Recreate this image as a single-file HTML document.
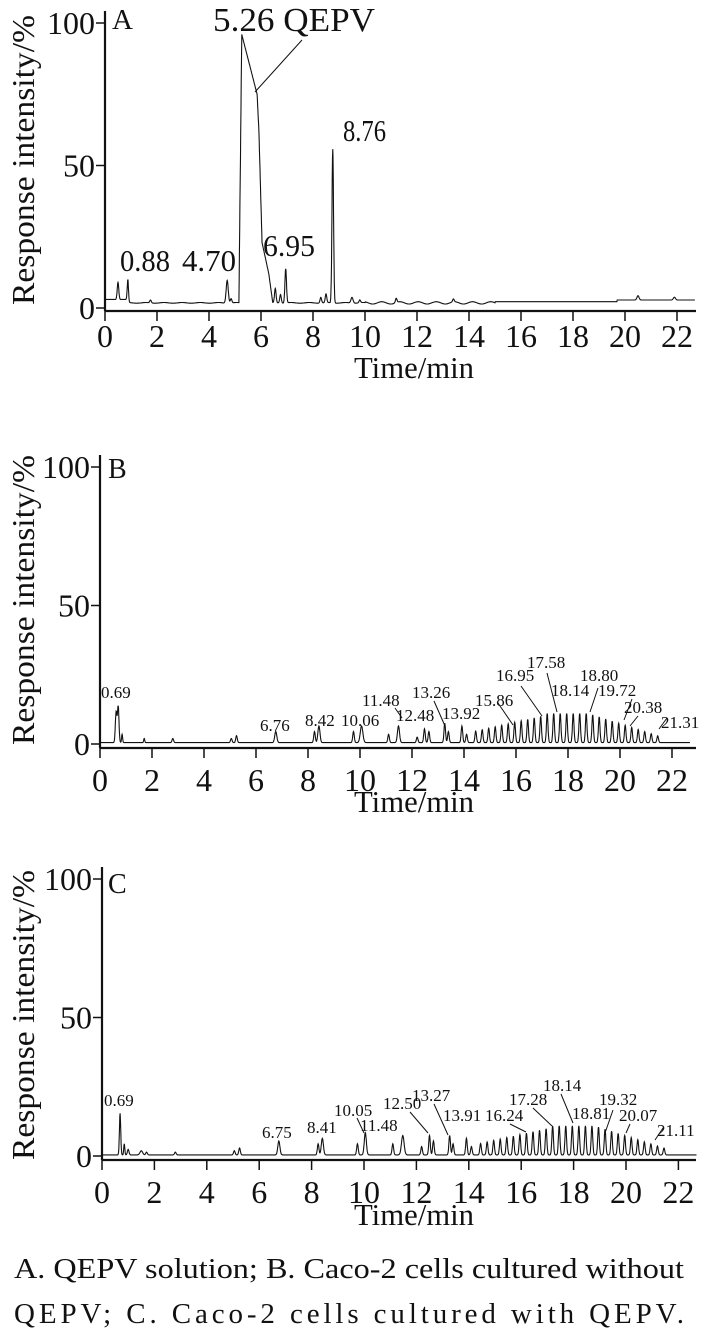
<!DOCTYPE html>
<html><head><meta charset="utf-8"><style>
html,body{margin:0;padding:0;background:#fff;}
svg{display:block;font-family:"Liberation Serif",serif;}
</style></head><body>
<svg id="s" width="701" height="1336" viewBox="0 0 701 1336" xmlns="http://www.w3.org/2000/svg">
<g fill="#111" stroke="none">
<text x="34" y="160" font-size="32" text-anchor="middle" textLength="290" lengthAdjust="spacingAndGlyphs" transform="rotate(-90 34 160)">Response intensity/%</text>
<text x="34" y="600" font-size="32" text-anchor="middle" textLength="290" lengthAdjust="spacingAndGlyphs" transform="rotate(-90 34 600)">Response intensity/%</text>
<text x="34" y="1015" font-size="32" text-anchor="middle" textLength="290" lengthAdjust="spacingAndGlyphs" transform="rotate(-90 34 1015)">Response intensity/%</text>
<text x="112" y="29" font-size="29">A</text>
<text x="108" y="478" font-size="28">B</text>
<text x="108" y="893" font-size="28">C</text>
<text x="213" y="31" font-size="34" textLength="162" lengthAdjust="spacingAndGlyphs">5.26 QEPV</text>
<text x="343" y="141" font-size="31" textLength="43" lengthAdjust="spacingAndGlyphs">8.76</text>
<text x="120" y="271" font-size="31" textLength="50" lengthAdjust="spacingAndGlyphs">0.88</text>
<text x="182" y="271" font-size="31" textLength="54" lengthAdjust="spacingAndGlyphs">4.70</text>
<text x="263" y="256" font-size="31" textLength="52" lengthAdjust="spacingAndGlyphs">6.95</text>
<text x="354" y="378" font-size="31" textLength="120" lengthAdjust="spacingAndGlyphs">Time/min</text>
<text x="354" y="812" font-size="31" textLength="120" lengthAdjust="spacingAndGlyphs">Time/min</text>
<text x="354" y="1225" font-size="31" textLength="120" lengthAdjust="spacingAndGlyphs">Time/min</text>
<text x="14" y="1278" font-size="29" textLength="670" lengthAdjust="spacingAndGlyphs">A. QEPV solution; B. Caco-2 cells cultured without</text>
<text x="14" y="1323" font-size="29" textLength="670" lengthAdjust="spacing">QEPV; C. Caco-2 cells cultured with QEPV.</text>
</g>
<g id="dyn"></g>
</svg>
<script>
const NS="http://www.w3.org/2000/svg",dyn=document.getElementById('dyn');
function el(t,a,txt){const e=document.createElementNS(NS,t);for(const k in a)e.setAttribute(k,a[k]);if(txt!==undefined)e.textContent=txt;dyn.appendChild(e);return e;}
function axes(x0,y0,y100,axY,lblY,ppm){
 el('line',{x1:x0,y1:y100-12,x2:x0,y2:axY,stroke:'#111','stroke-width':2.2});
 el('line',{x1:x0,y1:axY,x2:696,y2:axY,stroke:'#111','stroke-width':2.2});
 [[0,y0],[50,(y0+y100)/2],[100,y100]].forEach(([v,y])=>{
  el('line',{x1:x0-9,y1:y,x2:x0,y2:y,stroke:'#111','stroke-width':1.5});
  el('text',{x:x0-10,y:y+11,'font-size':32,'text-anchor':'end',fill:'#111'},String(v));});
 for(let m=0;m<=22;m+=2){const x=x0+m*ppm;
  el('line',{x1:x,y1:axY,x2:x,y2:axY+10,stroke:'#111','stroke-width':1.5});
  el('text',{x:x,y:lblY,'font-size':32,'text-anchor':'middle',fill:'#111'},String(m));}
}
function trace(x0,y0,y100,ppm,base,peaks,extra){
 const pts=[];
 for(let t=0;t<=22.7;t+=0.01){
  let v=base(t);
  for(const [c,h,w] of peaks){v+=h*Math.exp(-((t-c)*(t-c))/(2*w*w));}
  if(extra)v=extra(t,v);
  pts.push((x0+t*ppm).toFixed(1)+','+(y0-v*(y0-y100)/100).toFixed(1));
 }
 el('polyline',{points:pts.join(' '),fill:'none',stroke:'#111','stroke-width':1.1});
}
function lbl(x,y,s,fs){el('text',{x:x,y:y,'font-size':fs||17,fill:'#111'},s);}
function ln(a,b,c,d){el('line',{x1:a,y1:b,x2:c,y2:d,stroke:'#111','stroke-width':1});}

const pA=26.0;
axes(105,308,23,311,347,pA);
trace(105,308,23,pA,t=> (t<0.9?3:(t<15?1.8+0.4*Math.sin(t*9)*(t>10&&t<15?1:0.3):2.2+(t>19.7?0.6:0))),
 [[0.5,6,0.03],[0.88,7,0.025],[1.75,1,0.03],[4.7,8,0.04],[4.85,1.5,0.03],[6.55,5,0.03],[6.75,3,0.03],[6.95,12,0.03],
  [8.3,2,0.03],[8.5,3,0.03],[8.76,54,0.03],[9.5,2,0.04],[9.8,1,0.03],[11.2,1.5,0.03],[13.4,1,0.03],[20.5,1.5,0.04],[21.9,1,0.04]],
 (t,v)=>{ if(t>=5.15&&t<6.45){let m;
   if(t<5.26)m=2+(t-5.15)/0.11*94;
   else if(t<5.85)m=96-(t-5.26)/0.59*21;
   else if(t<5.92)m=75-(t-5.85)/0.07*13;
   else if(t<6.04)m=62-(t-5.92)/0.12*39;
   else if(t<6.3)m=23-(t-6.04)/0.26*11;
   else m=12-(t-6.3)/0.15*10;
   return Math.max(v,m);} return v;});
ln(302,40,255,92);

function tail(arr,hmax){
 for(let t=14.45;t<21.7;t+=0.25){
  let h= t<17.2? 4+ (t-14.4)/2.8*6 : t<18.8? 10.5 : 10.5-(t-18.8)/2.8*8.5;
  arr.push([t,h*hmax,0.03]);
 } return arr;}
const pB=26.0;
axes(100,744,467,748,791,pB);
trace(100,744,467,pB,t=>0.5,tail([[0.62,11,0.03],[0.7,13,0.03],[0.85,3,0.02],[1.7,1.5,0.02],[2.8,1.5,0.03],[5.05,1.5,0.03],[5.25,2.5,0.03],
 [6.76,4,0.04],[8.25,4,0.03],[8.42,6,0.04],[9.75,4,0.03],[10.06,6,0.05],[11.1,3,0.03],[11.48,6,0.04],[12.2,2,0.03],[12.48,5,0.03],[12.65,4,0.03],
 [13.26,7,0.03],[13.4,4,0.03],[13.92,6,0.03],[14.1,3,0.03]],1));
lbl(101,698,'0.69');lbl(260,731,'6.76');lbl(305,726,'8.42');lbl(341,726,'10.06');lbl(362,706,'11.48');
lbl(396,721,'12.48');lbl(412,698,'13.26');lbl(442,719,'13.92');lbl(475,706,'15.86');lbl(496,681,'16.95');
lbl(527,668,'17.58');lbl(551,696,'18.14');lbl(580,681,'18.80');lbl(598,696,'19.72');lbl(624,713,'20.38');lbl(661,728,'21.31');
ln(395,708,402,718);ln(434,701,445,726);ln(498,703,513,725);ln(521,686,542,716);ln(547,673,557,712);ln(598,688,590,712);ln(632,699,624,720);ln(638,716,630,726);ln(667,718,659,729);

const pC=26.2;
axes(102,1156,879,1160,1203,pC);
trace(102,1156,879,pC,t=>0.4,tail([[0.69,15,0.025],[0.85,4,0.02],[1.0,2,0.03],[1.5,1.5,0.05],[1.7,1,0.03],[2.8,1,0.03],[5.05,1.5,0.03],[5.25,2.5,0.03],
 [6.75,5,0.04],[8.25,4,0.03],[8.41,6,0.04],[9.75,4,0.03],[10.05,8,0.04],[11.1,4,0.03],[11.48,7,0.05],[12.2,3,0.03],[12.5,7,0.03],[12.65,5,0.03],
 [13.27,7,0.03],[13.4,4,0.03],[13.91,6,0.03],[14.1,3,0.03]],1));
lbl(104,1106,'0.69');lbl(262,1138,'6.75');lbl(307,1133,'8.41');lbl(334,1116,'10.05');lbl(360,1131,'11.48');
lbl(383,1109,'12.50');lbl(412,1101,'13.27');lbl(443,1121,'13.91');lbl(485,1121,'16.24');lbl(509,1105,'17.28');
lbl(543,1091,'18.14');lbl(572,1119,'18.81');lbl(599,1105,'19.32');lbl(619,1121,'20.07');lbl(657,1136,'21.11');
ln(357,1118,364,1133);ln(410,1112,428,1133);ln(434,1104,448,1135);ln(510,1124,526,1132);ln(533,1108,552,1126);ln(561,1094,573,1123);ln(613,1110,605,1133);ln(630,1124,626,1133);ln(663,1128,655,1140);
</script>
</body></html>
